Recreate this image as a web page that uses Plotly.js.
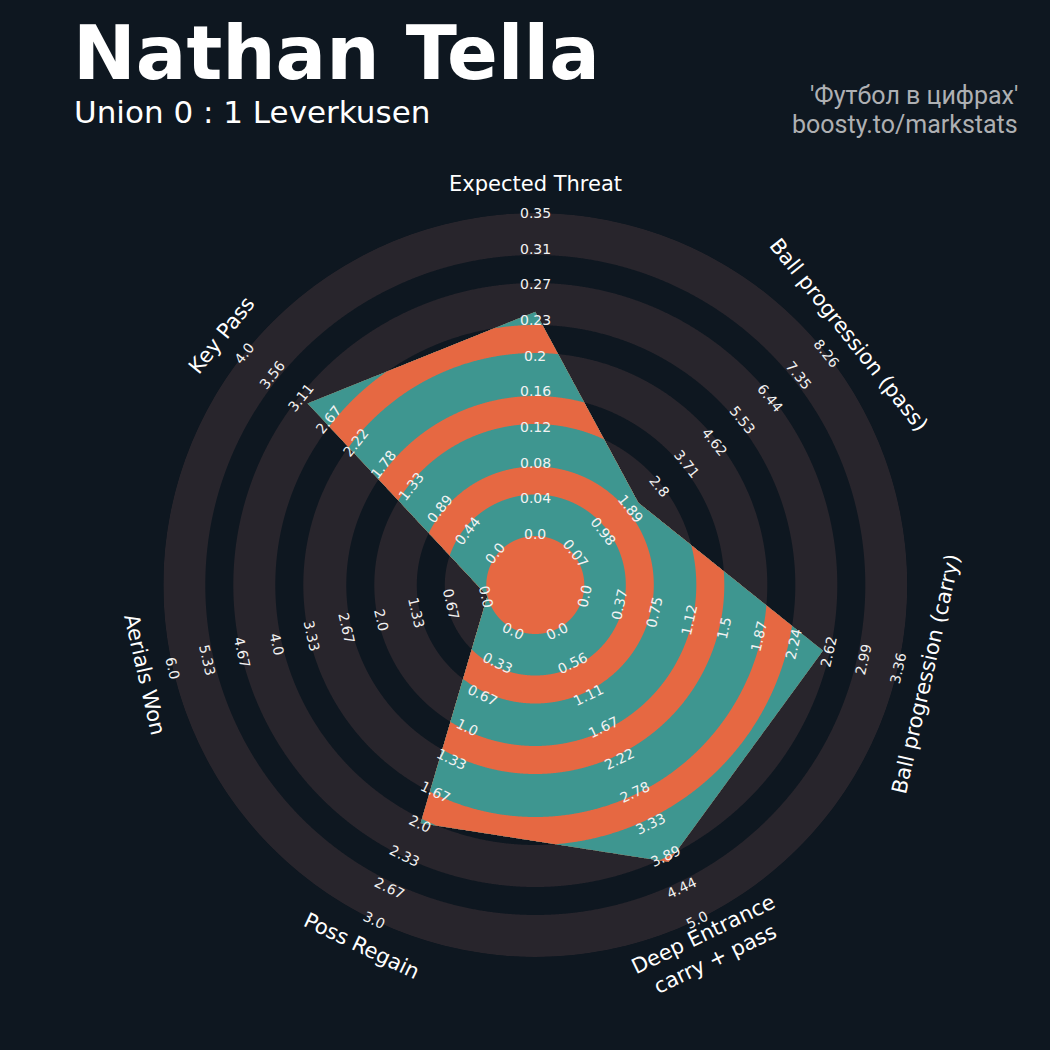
<!DOCTYPE html>
<html>
<head>
<meta charset="utf-8">
<script src="https://cdn.plot.ly/plotly-3.0.1.min.js"></script>
<style>html,body{margin:0;padding:0;background:#0e1720;}</style>
</head>
<body>
<div id="chart" style="width:1050px;height:1050px;"></div>
<script>
// ---------------- DATA ----------------
const params = ['Expected Threat', 'Ball progression (pass)', 'Ball progression (carry)',
  'Deep Entrance<br>carry + pass', 'Poss Regain', 'Aerials Won', 'Key Pass'];
const values   = [0.243, 2.17, 2.56, 4, 2, 0, 3];
const minRange = [0, 0.07, 0, 0, 0, 0, 0];
const maxRange = [0.35, 8.26, 3.36, 5, 3, 6, 4];
const tickExpectedThreat = ['0.0','0.04','0.08','0.12','0.16','0.2','0.23','0.27','0.31','0.35'];
const tickBallProgPass   = ['0.07','0.98','1.89','2.8','3.71','4.62','5.53','6.44','7.35','8.26'];
const tickBallProgCarry  = ['0.0','0.37','0.75','1.12','1.5','1.87','2.24','2.62','2.99','3.36'];
const tickDeepEntrance   = ['0.0','0.56','1.11','1.67','2.22','2.78','3.33','3.89','4.44','5.0'];
const tickPossRegain     = ['0.0','0.33','0.67','1.0','1.33','1.67','2.0','2.33','2.67','3.0'];
const tickAerialsWon     = ['0.0','0.67','1.33','2.0','2.67','3.33','4.0','4.67','5.33','6.0'];
const tickKeyPass        = ['0.0','0.44','0.89','1.33','1.78','2.22','2.67','3.11','3.56','4.0'];
const tickLabels = [tickExpectedThreat, tickBallProgPass, tickBallProgCarry, tickDeepEntrance,
  tickPossRegain, tickAerialsWon, tickKeyPass];

// ---------------- LAYOUT CONSTANTS ----------------
const W = 1050, H = 1050;
const CX = 535.3, CY = 585, RMAX = 372, R0 = 49;
const ringEdges = [372, 330, 302, 260, 232, 189, 161, 118.5, 90.5, 49];
const BG = '#0e1720', RING = '#28252c', TEAL = '#3e9690', ORANGE = '#e66842';

const n = params.length;
const axisTheta = params.map((_, i) => i * 360 / n);
const vr = values.map((v, i) => R0 + (v - minRange[i]) / (maxRange[i] - minRange[i]) * (RMAX - R0));
const rad = d => d * Math.PI / 180;
const vx = vr.map((r, i) => r * Math.sin(rad(axisTheta[i])));
const vy = vr.map((r, i) => r * Math.cos(rad(axisTheta[i])));

function polyRadius(th) {
  let t = ((th % 360) + 360) % 360;
  let i = Math.min(n - 1, Math.floor(t / (360 / n)));
  const j = (i + 1) % n;
  const ux = Math.sin(rad(t)), uy = Math.cos(rad(t));
  const dx = vx[j] - vx[i], dy = vy[j] - vy[i];
  const num = vx[i] * dy - vy[i] * dx;
  const den = ux * dy - uy * dx;
  if (Math.abs(den) < 1e-12) return vr[i];
  return num / den;
}

function thetaSamples() {
  const s = [];
  for (let t = 0; t < 360; t += 0.2) s.push(t);
  axisTheta.forEach(a => s.push(a));
  s.sort((a, b) => a - b);
  s.push(360);
  return s;
}
const TH = thetaSamples();

const traces = [];
function disk(R, color, clip) {
  const r = TH.map(t => clip ? Math.min(R, polyRadius(t)) : R);
  traces.push({
    type: 'scatterpolar', mode: 'lines', r: r, theta: TH, fill: 'toself',
    fillcolor: color, line: {width: 0, color: color}, hoverinfo: 'skip', showlegend: false
  });
}
ringEdges.forEach((R, k) => disk(R, k % 2 === 0 ? RING : BG, false));
ringEdges.forEach((R, k) => disk(R, k % 2 === 0 ? TEAL : ORANGE, true));

// ---------------- ANNOTATIONS ----------------
const ann = [];
function toPaper(r, th) {
  const px = CX + r * Math.sin(rad(th));
  const py = CY - r * Math.cos(rad(th));
  return {x: px / W, y: 1 - py / H};
}
function textAngle(th) { return ((th + 90) % 180 + 180) % 180 - 90; }

params.forEach((p, i) => {
  const th = axisTheta[i];
  const ta = textAngle(th);
  tickLabels[i].forEach((lab, k) => {
    const r = R0 + 2 + k * (RMAX - R0 - 2) / (tickLabels[i].length - 1);
    const pos = toPaper(r, th);
    ann.push({xref: 'paper', yref: 'paper', x: pos.x, y: pos.y, xanchor: 'center', yanchor: 'middle',
      text: lab, showarrow: false, textangle: ta,
      font: {family: 'DejaVu Sans', size: 14, color: '#f2f2f2'}});
  });
  const pos = toPaper(401, th);
  ann.push({xref: 'paper', yref: 'paper', x: pos.x, y: pos.y, xanchor: 'center', yanchor: 'middle',
    text: p, showarrow: false, textangle: ta,
    font: {family: 'DejaVu Sans', size: 21, color: '#ffffff'}});
});

ann.push({xref: 'paper', yref: 'paper', x: 71 / W, y: 1 - 53 / H, xanchor: 'left', yanchor: 'middle',
  text: 'Nathan Tella', showarrow: false,
  font: {family: 'DejaVu Sans', size: 75, color: '#ffffff', weight: 700}});
ann.push({xref: 'paper', yref: 'paper', x: 72 / W, y: 1 - 112 / H, xanchor: 'left', yanchor: 'middle',
  text: 'Union 0 : 1 Leverkusen', showarrow: false,
  font: {family: 'DejaVu Sans', size: 31, color: '#ffffff'}});
ann.push({xref: 'paper', yref: 'paper', x: 1020 / W, y: 1 - 96 / H, xanchor: 'right', yanchor: 'middle',
  text: "'Футбол в цифрах'", showarrow: false,
  font: {family: 'Roboto', size: 25, color: '#aeb0b3'}});
ann.push({xref: 'paper', yref: 'paper', x: 1020 / W, y: 1 - 124 / H, xanchor: 'right', yanchor: 'middle',
  text: 'boosty.to/markstats', showarrow: false,
  font: {family: 'Roboto', size: 25, color: '#aeb0b3'}});

const layout = {
  width: W, height: H,
  margin: {l: 0, r: 0, t: 0, b: 0},
  paper_bgcolor: BG, plot_bgcolor: BG,
  showlegend: false,
  polar: {
    domain: {x: [(CX - RMAX) / W, (CX + RMAX) / W], y: [(H - CY - RMAX) / H, (H - CY + RMAX) / H]},
    bgcolor: 'rgba(0,0,0,0)',
    radialaxis: {range: [0, RMAX], visible: false, showgrid: false},
    angularaxis: {rotation: 90, direction: 'clockwise', visible: false, showgrid: false},
  },
  annotations: ann
};
Plotly.newPlot('chart', traces, layout, {staticPlot: true, displayModeBar: false});
</script>
</body>
</html>
